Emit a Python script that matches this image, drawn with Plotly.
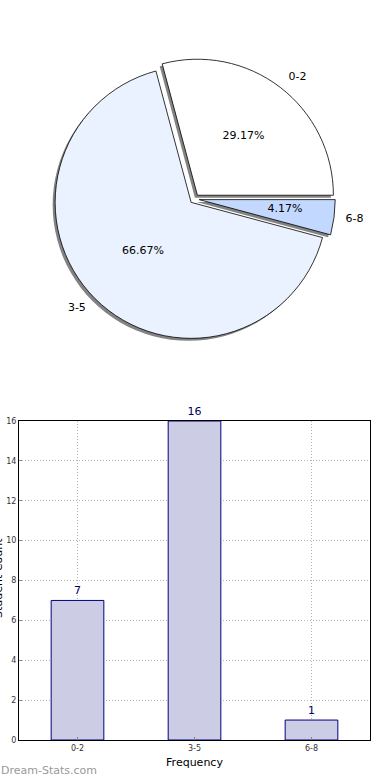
import plotly.graph_objects as go

categories = ["0-2", "3-5", "6-8"]
counts = [7, 16, 1]
pie_colors = ["#ffffff", "#ebf2ff", "#c3d8ff"]
bar_fill = "#ccccE5"
bar_line = "#000080"
y_ticks = [0, 2, 4, 6, 8, 10, 12, 14, 16]

W, H = 390, 780
ml, mr, mt, mb = 19, 20, 0, 40
pw, ph = W - ml - mr, H - mt - mb

def px_x(x):
    return (x - ml) / pw

def px_y(y):
    return (H - mb - y) / ph

def dom(cx, cy, half):
    return dict(x=[px_x(cx - half), px_x(cx + half)],
                y=[px_y(cy + half), px_y(cy - half)])

pull = 0.035
radius = 136
cx, cy = 194.5, 199
half = radius * (1 + pull)
pulls = [pull] * 3
rot = -15
pct_inside = ["%{percent:.2%}", "%{percent:.2%}", ""]
pct_small = ["", "", "%{percent:.2%}"]

common = dict(labels=categories, values=counts, sort=False,
              direction="counterclockwise", rotation=rot, pull=pulls)
clear = dict(colors=["rgba(0,0,0,0)"] * 3, line=dict(width=0))
txt = dict(family="DejaVu Sans", size=11, color="black")

fig = go.Figure()
# shadow
fig.add_trace(go.Pie(
    **common, domain=dom(cx - 2.5, cy + 2.5, half),
    marker=dict(colors=["rgba(90,90,90,0.75)"] * 3, line=dict(width=0)),
    textinfo="none", hoverinfo="skip", showlegend=False))
# main pie with percentages
fig.add_trace(go.Pie(
    **common, domain=dom(cx, cy, half),
    marker=dict(colors=pie_colors, line=dict(color="black", width=0.8)),
    texttemplate=pct_inside, textposition="inside",
    insidetextorientation="horizontal", textfont=txt, showlegend=False))
# percentage of the thin slice
fig.add_trace(go.Pie(
    **common, domain=dom(cx, cy, half * 0.5), marker=clear,
    texttemplate=pct_small, textposition="outside",
    outsidetextfont=txt, hoverinfo="skip", showlegend=False))
# outside category labels
fig.add_trace(go.Pie(
    **common, domain=dom(cx, cy, (radius + 8) * (1 + pull)), marker=clear,
    textinfo="label", textposition="outside",
    outsidetextfont=txt, hoverinfo="skip", showlegend=False))

fig.add_trace(go.Bar(
    x=categories, y=counts, width=0.45,
    marker=dict(color=bar_fill, line=dict(color=bar_line, width=1)),
    text=[str(c) for c in counts], textposition="outside", cliponaxis=False,
    textfont=dict(family="DejaVu Sans", size=11, color="#000060"),
    showlegend=False))

grid = dict(showgrid=True, gridcolor="#b4b4b4", griddash="1px,2px", gridwidth=1)
tickf = dict(family="DejaVu Sans", size=8, color="#333")
fig.update_layout(
    width=W, height=H, margin=dict(l=ml, r=mr, t=mt, b=mb, autoexpand=False),
    paper_bgcolor="white", plot_bgcolor="white",
    uniformtext=dict(minsize=11, mode="show"),
    xaxis=dict(domain=[0, 1], range=[-0.5, 2.5], **grid, automargin=False,
               showline=True, linecolor="black", mirror=True, linewidth=1,
               ticks="inside", ticklen=3, tickcolor="#888", tickfont=tickf,
               title=dict(text="Frequency", standoff=6,
                          font=dict(family="DejaVu Sans", size=11, color="black"))),
    yaxis=dict(domain=[0, px_y(421)], range=[0, 16], tickvals=y_ticks, **grid,
               automargin=False, zeroline=False,
               showline=True, linecolor="black", mirror=True, linewidth=1,
               ticks="inside", ticklen=3, tickcolor="#888", tickfont=tickf),
    annotations=[
        dict(text="Student Count", textangle=-90, xref="paper", yref="paper",
             x=px_x(-2), y=px_y(578), xanchor="center", yanchor="middle",
             showarrow=False, font=dict(family="DejaVu Sans", size=11, color="black")),
        dict(text="Dream-Stats.com", xref="paper", yref="paper",
             x=px_x(-1), y=px_y(770), xanchor="left", yanchor="middle",
             showarrow=False, font=dict(family="DejaVu Sans", size=11, color="#999999")),
    ],
)

fig.write_html("out.html", config=dict(displayModeBar=False),
               post_script="document.body.style.margin='0';document.body.style.padding='0';")
